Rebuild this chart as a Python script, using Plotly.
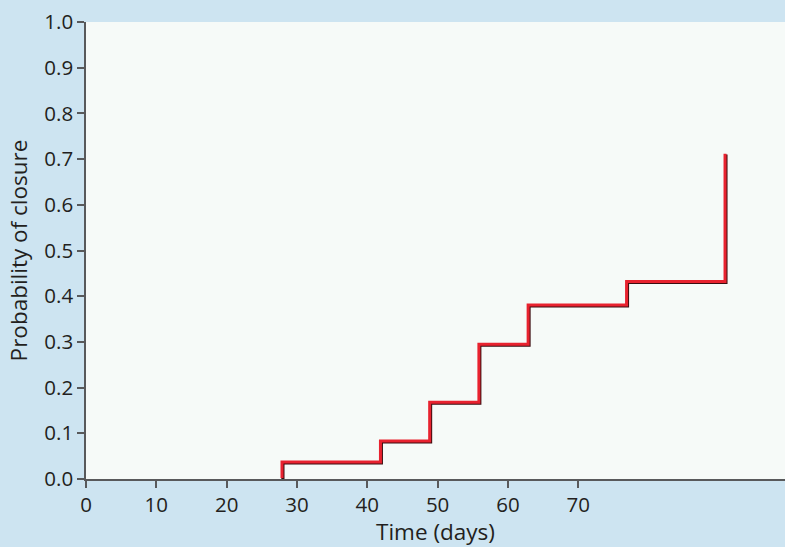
import plotly.graph_objects as go

# Event times (days) and cumulative probability of closure
time_days = [28, 28, 42, 49, 56, 63, 77, 91]
prob_closure = [0.0, 0.035, 0.081, 0.166, 0.293, 0.379, 0.430, 0.710]

x_ticks = [0, 10, 20, 30, 40, 50, 60, 70]
y_ticks = [0.0, 0.1, 0.2, 0.3, 0.4, 0.5, 0.6, 0.7, 0.8, 0.9, 1.0]

X_RANGE = [0, 99.4]
Y_RANGE = [0, 1.0]

font_family = "Open Sans, Noto Sans, sans-serif"
text_color = "#231f20"
axis_color = "#58595b"

fig = go.Figure()

# dark shadow on main axes; red line on an overlay axis shifted ~1px up-left
px_x = (X_RANGE[1] - X_RANGE[0]) / 699
px_y = (Y_RANGE[1] - Y_RANGE[0]) / 457
fig.add_trace(go.Scatter(
    x=time_days, y=prob_closure, mode="lines", line_shape="hv",
    line=dict(color="#3b0d10", width=3.2),
    hoverinfo="skip", showlegend=False))
fig.add_trace(go.Scatter(
    x=time_days, y=prob_closure, mode="lines", line_shape="hv",
    line=dict(color="#e8222f", width=3), xaxis="x2", yaxis="y2",
    showlegend=False))

fig.update_layout(
    width=785, height=547,
    margin=dict(l=86, r=0, t=22, b=68),
    paper_bgcolor="#cde4f1",
    plot_bgcolor="#f6faf8",
    font=dict(family=font_family, color=text_color, size=20),
    xaxis=dict(
        range=X_RANGE, tickvals=x_ticks, ticktext=[str(v) for v in x_ticks],
        showgrid=False, zeroline=False, showline=True, linecolor=axis_color,
        linewidth=1.5, ticks="outside", ticklen=7, tickcolor=axis_color,
        tickwidth=1.5, tickfont=dict(size=20.5, color=text_color),
        automargin=False,
        title=dict(text="Time (days)", font=dict(size=22.5, color=text_color), standoff=11),
    ),
    yaxis=dict(
        range=Y_RANGE, tickvals=y_ticks, ticktext=[f"{v:.1f}" for v in y_ticks],
        showgrid=False, zeroline=False, showline=True, linecolor=axis_color,
        linewidth=1.5, ticks="outside", ticklen=7, tickcolor=axis_color,
        tickwidth=1.5, tickfont=dict(size=20.5, color=text_color),
        automargin=False,
        title=dict(text="Probability of closure", font=dict(size=22.5, color=text_color), standoff=10),
    ),
    xaxis2=dict(range=[X_RANGE[0] + 0.9 * px_x, X_RANGE[1] + 0.9 * px_x], overlaying="x",
                visible=False, showgrid=False),
    yaxis2=dict(range=[Y_RANGE[0] - 0.9 * px_y, Y_RANGE[1] - 0.9 * px_y], overlaying="y",
                visible=False, showgrid=False),
)

fig.write_html(
    "out.html",
    config={"displayModeBar": False},
    post_script="document.body.style.margin='0';document.body.style.overflow='hidden';",
)
